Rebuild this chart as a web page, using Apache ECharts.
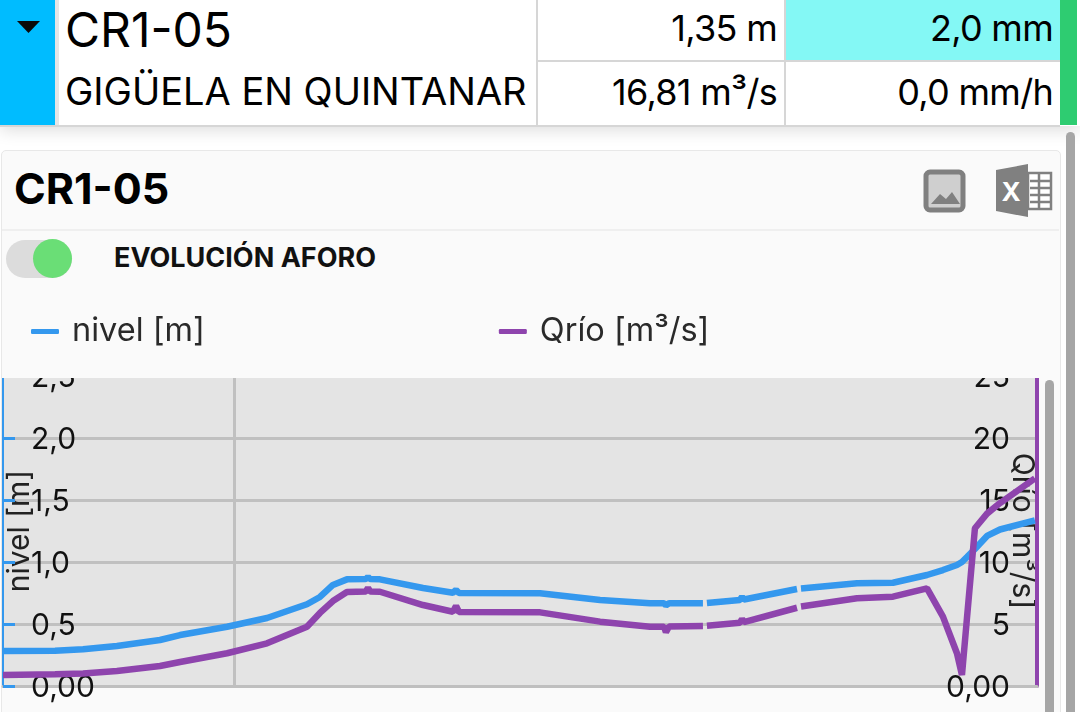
<!DOCTYPE html>
<html>
<head>
<meta charset="utf-8">
<title>CR1-05</title>
<script src="https://cdn.jsdelivr.net/npm/echarts@6/dist/echarts.min.js"></script>
<style>
html,body{margin:0;padding:0;background:#fff;overflow:hidden}
body{width:1080px;height:712px;position:relative;font-family:Inter,Roboto,sans-serif;color:#000}
.abs{position:absolute;white-space:nowrap}
.val{font-size:36px;letter-spacing:-0.7px;text-align:right}
#chart{position:absolute;left:0;top:300px;width:1080px;height:412px}
</style>
</head>
<body>
<!-- cabecera de la estacion -->
<div class="abs" style="left:0;top:0;width:1080px;height:126px;box-shadow:0 4px 16px rgba(0,0,0,.14);background:#fff"></div>
<div class="abs" style="left:0;top:0;width:55px;height:125px;background:#00bcff"></div>
<div class="abs" style="left:55px;top:0;width:4px;height:125px;background:#e6e6e6"></div>
<svg class="abs" style="left:17px;top:21px" width="24" height="12"><path d="M0 0H23L11.500 12Z" fill="#0a0a0a"/></svg>
<div class="abs" style="left:65px;top:2px;font-size:48px;line-height:56px">CR1-05</div>
<div class="abs" style="left:65px;top:68px;font-size:38px;line-height:46px">GIGÜELA EN QUINTANAR</div>
<div class="abs" style="left:784px;top:0;width:276px;height:60px;background:#84f8f5"></div>
<div class="abs" style="left:536px;top:0;width:2px;height:125px;background:#d6d6d6"></div>
<div class="abs" style="left:784px;top:0;width:2px;height:125px;background:#d6d6d6"></div>
<div class="abs" style="left:536px;top:60px;width:524px;height:2px;background:#d6d6d6"></div>
<div class="abs" style="left:0;top:125px;width:1060px;height:2px;background:#d6d6d6"></div>
<div class="abs val" style="right:303px;top:6px;line-height:44px">1,35 m</div>
<div class="abs val" style="right:27px;top:6px;line-height:44px">2,0 mm</div>
<div class="abs val" style="right:303px;top:70px;line-height:44px">16,81 m³/s</div>
<div class="abs val" style="right:27px;top:70px;line-height:44px">0,0 mm/h</div>
<div class="abs" style="left:1060px;top:0;width:17px;height:125px;background:#2ecc71"></div>

<!-- tarjeta -->
<div class="abs" style="left:1px;top:150px;width:1058px;height:570px;background:#fafafa;border:1px solid #e8e8e8;border-radius:5px"></div>
<div class="abs" style="left:2px;top:229px;width:1057px;height:2px;background:#efefef"></div>
<div class="abs" style="left:14px;top:162px;font-size:43px;font-weight:700;line-height:52px">CR1-05</div>
<svg class="abs" style="left:923px;top:169px" width="44" height="44">
  <rect x="3" y="3" width="37" height="38" rx="4" fill="#cfcfcf" stroke="#808080" stroke-width="5"/>
  <path d="M8 35L17 25L23 30L29 23L37 35Z" fill="#808080"/>
</svg>
<svg class="abs" style="left:996px;top:164px" width="58" height="54">
  <path d="M0 6L32 0V53L0 47Z" fill="#808080"/>
  <rect x="32" y="9" width="23" height="36" fill="#fff" stroke="#808080" stroke-width="2.500"/>
  <path d="M34 17H54M34 24H54M34 31H54M34 38H54M43 9V45" stroke="#808080" stroke-width="2.500"/>
  <text x="15" y="37" font-family="Inter" font-size="26" font-weight="700" fill="#fff" text-anchor="middle">X</text>
</svg>
<div class="abs" style="left:6px;top:240px;width:66px;height:38px;background:#dcdcdc;border-radius:19px"></div>
<div class="abs" style="left:33px;top:239px;width:39px;height:39px;background:#6ade76;border-radius:50%"></div>
<div class="abs" style="left:114px;top:242px;font-size:27px;font-weight:700;line-height:32px;color:#111">EVOLUCIÓN AFORO</div>

<div id="chart"></div>
<div class="abs" style="left:1045px;top:380px;width:9px;height:340px;background:#a6a6a6;border-radius:5px"></div>
<div class="abs" style="left:1066px;top:132px;width:9px;height:590px;background:#a6a6a6;border-radius:5px"></div>

<script>
// horas desde la medianoche del primer dia
var horas = [-13.36,-10.35,-8.73,-6.77,-4.28,-3.12,-0.40,1.91,4.22,4.97,5.72,6.53,7.63,7.75,7.87,8.44,10.93,12.66,12.84,13.01,17.70,21.17,24.06,24.87,24.98,25.16,27.12,27.24,27.35,29.26,29.38,29.49,32.56,32.67,32.79,36.03,38.11,40.08,41.00,41.81,42.10,42.39,42.85,43.55,44.30,46.32];
var nivel = [0.282,0.285,0.296,0.323,0.371,0.411,0.478,0.548,0.659,0.718,0.815,0.860,0.862,0.880,0.862,0.860,0.790,0.752,0.774,0.750,0.748,0.694,0.667,0.667,0.650,0.667,0.667,null,0.669,0.694,0.718,0.698,0.782,null,0.786,0.828,0.833,0.895,0.935,0.976,1.0,1.040,1.105,1.210,1.262,1.335];
var qrio = [0.89,0.94,1.01,1.21,1.61,1.94,2.64,3.44,4.78,5.89,6.85,7.58,7.62,7.90,7.62,7.60,6.53,5.99,6.45,5.97,5.94,5.19,4.78,4.78,4.35,4.80,4.84,null,4.86,5.10,5.40,5.16,6.31,null,6.41,7.07,7.20,7.88,5.59,2.64,0.89,5.48,12.72,13.90,14.75,16.75];
var ticksNivel = ['0,00','0,5','1,0','1,5','2,0','2,5'];
var ticksQrio = ['0,00','5','10','15','20','25'];

var FUENTE = 'Inter';
var base = new Date(2024, 0, 1).getTime();
function fecha(h) { return base + h * 3600000; }
function pares(valores) {
    return horas.map(function (h, i) { return [fecha(h), valores[i]]; });
}
// las etiquetas van un poco por debajo de la linea
var richEje = { t: { fontSize: 30, color: '#111', fontFamily: FUENTE, padding: [4, 0, 0, 0] } };

var chart = echarts.init(document.getElementById('chart'));
var option = {
    animation: false,
    textStyle: { fontFamily: FUENTE },
    // tapa lo que sobresale por arriba del grafico (el 2,5 sale cortado)
    graphic: [{
        type: 'rect',
        z: 5,
        shape: { x: 2, y: 0, width: 1057, height: 78 },
        style: { fill: '#fafafa' }
    }],
    legend: {
        z: 10,
        left: 26,
        top: 10,
        icon: 'roundRect',
        itemWidth: 28,
        itemHeight: 5,
        itemGap: 294,
        textStyle: { fontFamily: FUENTE, fontSize: 32.5, color: '#2a2a2a', padding: [0, 0, 0, 8] },
        data: ['nivel [m]', 'Qrío [m³/s]']
    },
    grid: {
        left: 3,
        right: 43,
        top: 76,
        bottom: 26,
        outerBoundsMode: 'none',
        show: true,
        borderWidth: 0,
        backgroundColor: '#e4e4e4'
    },
    xAxis: {
        type: 'time',
        min: fecha(-13.36),
        max: fecha(46.44),
        splitNumber: 2,
        axisLine: { lineStyle: { color: '#bfbfbf', width: 3 } },
        axisTick: { show: false },
        axisLabel: { show: false },
        splitLine: { show: true, showMinLine: false, showMaxLine: false, lineStyle: { color: '#c0c0c0', width: 3 } }
    },
    yAxis: [{
        type: 'value',
        name: 'nivel [m]',
        nameLocation: 'middle',
        nameGap: -32,
        nameMoveOverlap: false,
        nameTextStyle: { fontSize: 30, color: '#222', fontFamily: FUENTE },
        min: 0,
        max: 2.5,
        interval: 0.5,
        axisLine: { show: true, lineStyle: { color: '#3498ee', width: 2 } },
        axisTick: { show: true, inside: true, length: 12, lineStyle: { color: '#3498ee', width: 3 } },
        axisLabel: {
            inside: true,
            margin: 28,
            rich: richEje,
            formatter: function (v) { return '{t|' + ticksNivel[Math.round(v / 0.5)] + '}'; }
        },
        splitLine: { show: true, lineStyle: { color: '#c0c0c0', width: 3 } }
    }, {
        type: 'value',
        name: 'Qrío [m³/s]',
        nameLocation: 'middle',
        nameRotate: -90,
        nameGap: -30,
        nameMoveOverlap: false,
        nameTextStyle: { fontSize: 30, color: '#222', fontFamily: FUENTE },
        min: 0,
        max: 25,
        interval: 5,
        axisLine: { show: true, lineStyle: { color: '#8e44ad', width: 4 } },
        axisTick: { show: false },
        axisLabel: {
            inside: true,
            margin: 27,
            rich: richEje,
            formatter: function (v) { return '{t|' + ticksQrio[Math.round(v / 5)] + '}'; }
        },
        splitLine: { show: false }
    }],
    series: [{
        name: 'nivel [m]',
        type: 'line',
        yAxisIndex: 0,
        data: pares(nivel),
        showSymbol: false,
        connectNulls: false,
        itemStyle: { color: '#3498ee' },
        lineStyle: { color: '#3498ee', width: 6.5 }
    }, {
        name: 'Qrío [m³/s]',
        type: 'line',
        yAxisIndex: 1,
        data: pares(qrio),
        showSymbol: false,
        connectNulls: false,
        itemStyle: { color: '#8e44ad' },
        lineStyle: { color: '#8e44ad', width: 6.5 }
    }]
};
chart.setOption(option);
</script>
</body>
</html>
